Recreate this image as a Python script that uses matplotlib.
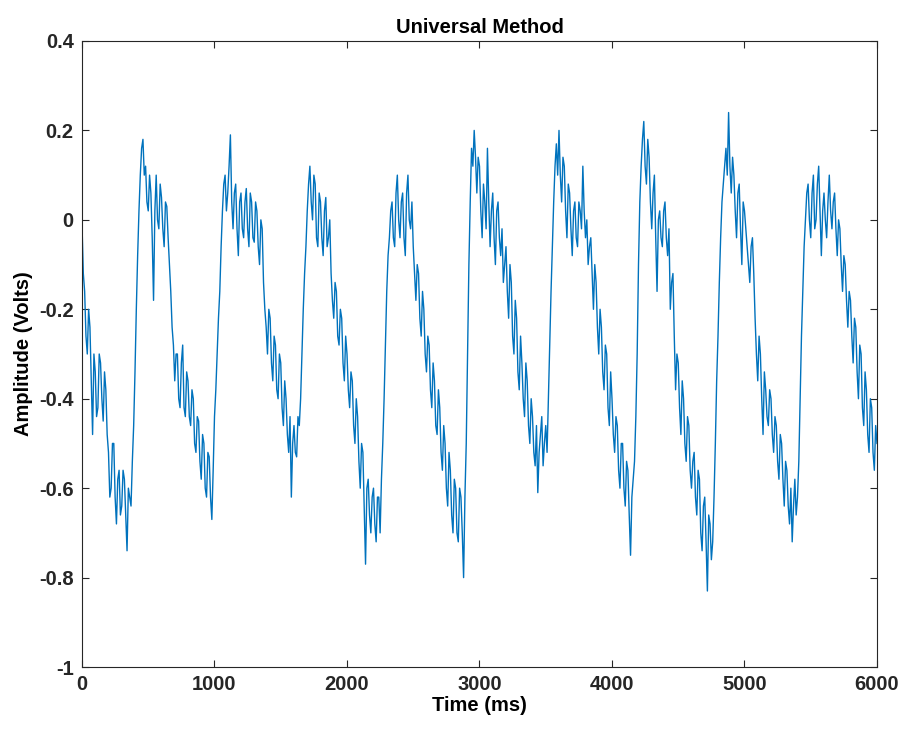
#!/usr/bin/env python3
"""Universal Method trace: amplitude vs time, MATLAB-style axes."""
import matplotlib
matplotlib.use("Agg")
import matplotlib.pyplot as plt
import numpy as np

# sample spacing of the hand-read trace (ms)
SAMPLE_MS = 10

# amplitude (Volts) at t = 0, 20, 40, ... (one row per 200 ms)
AMPLITUDE_EVEN = [
    -0.01, -0.16, -0.30, -0.24, -0.48, -0.34, -0.42, -0.32, -0.45, -0.38,
    -0.52, -0.60, -0.50, -0.68, -0.56, -0.64, -0.58, -0.74, -0.62, -0.54,
    -0.34, -0.08, 0.10, 0.18, 0.12, 0.02, 0.06, -0.18, 0.10, -0.02,
    0.05, -0.06, 0.03, -0.10, -0.24, -0.36, -0.30, -0.42, -0.28, -0.44,
    -0.36, -0.46, -0.40, -0.52, -0.45, -0.58, -0.50, -0.62, -0.53, -0.67,
    -0.44, -0.30, -0.16, 0.02, 0.10, 0.06, 0.19, -0.02, 0.08, -0.08,
    0.06, -0.04, 0.07, -0.06, 0.04, -0.05, 0.02, -0.10, -0.02, -0.20,
    -0.30, -0.22, -0.36, -0.28, -0.40, -0.32, -0.46, -0.40, -0.52, -0.62,
    -0.46, -0.53, -0.46, -0.30, -0.12, 0.02, 0.12, 0.00, 0.08, -0.06,
    0.04, -0.08, 0.05, -0.04, -0.12, -0.22, -0.16, -0.28, -0.22, -0.36,
    -0.30, -0.42, -0.36, -0.50, -0.44, -0.60, -0.52, -0.77, -0.58, -0.70,
    -0.60, -0.72, -0.62, -0.58, -0.40, -0.16, -0.04, 0.04, -0.06, 0.10,
    -0.04, 0.06, -0.08, 0.10, -0.02, -0.06, -0.18, -0.12, -0.26, -0.20,
    -0.34, -0.28, -0.42, -0.36, -0.48, -0.42, -0.56, -0.50, -0.64, -0.56,
    -0.70, -0.60, -0.72, -0.62, -0.80, -0.50, -0.10, 0.16, 0.20, 0.06,
    0.12, -0.04, 0.04, 0.16, -0.06, 0.06, -0.10, 0.04, -0.08, -0.14,
    -0.06, -0.22, -0.14, -0.30, -0.22, -0.38, -0.32, -0.44, -0.36, -0.50,
    -0.44, -0.55, -0.61, -0.48, -0.55, -0.46, -0.40, -0.16, 0.04, 0.17,
    0.20, 0.04, 0.12, -0.04, 0.06, -0.08, 0.04, -0.06, 0.02, 0.12,
    -0.04, -0.10, -0.04, -0.20, -0.14, -0.30, -0.24, -0.38, -0.30, -0.46,
    -0.40, -0.52, -0.46, -0.60, -0.50, -0.64, -0.56, -0.75, -0.58, -0.44,
    -0.10, 0.12, 0.22, 0.08, 0.14, -0.02, 0.10, -0.16, 0.02, -0.06,
    0.04, -0.08, -0.20, -0.12, -0.38, -0.32, -0.48, -0.40, -0.54, -0.46,
    -0.60, -0.52, -0.66, -0.58, -0.74, -0.62, -0.83, -0.68, -0.72, -0.50,
    -0.26, -0.04, 0.08, 0.16, 0.24, 0.06, 0.10, -0.04, 0.08, -0.10,
    0.02, -0.06, -0.14, -0.04, -0.22, -0.36, -0.30, -0.48, -0.38, -0.46,
    -0.40, -0.52, -0.46, -0.58, -0.50, -0.64, -0.56, -0.68, -0.72, -0.58,
    -0.62, -0.40, -0.16, 0.00, 0.08, -0.04, 0.10, 0.00, 0.12, -0.08,
    0.06, -0.04, 0.10, -0.02, 0.06, -0.08, -0.02, -0.16, -0.10, -0.24,
    -0.18, -0.32, -0.24, -0.40, -0.30, -0.46, -0.38, -0.52, -0.42, -0.56,
    -0.50,
]

# amplitude (Volts) at t = 10, 30, 50, ... (one row per 200 ms)
AMPLITUDE_ODD = [
    -0.12, -0.26, -0.20, -0.36, -0.30, -0.44, -0.30, -0.40, -0.34, -0.48,
    -0.62, -0.50, -0.62, -0.58, -0.66, -0.56, -0.66, -0.60, -0.64, -0.46,
    -0.20, 0.02, 0.16, 0.10, 0.04, 0.10, -0.04, 0.02, 0.00, 0.08,
    -0.02, 0.04, -0.04, -0.16, -0.28, -0.30, -0.40, -0.32, -0.42, -0.34,
    -0.44, -0.38, -0.50, -0.44, -0.54, -0.48, -0.60, -0.52, -0.62, -0.56,
    -0.38, -0.22, -0.06, 0.08, 0.02, 0.12, 0.04, 0.06, -0.02, 0.04,
    -0.02, 0.04, -0.02, 0.06, -0.04, 0.04, -0.06, 0.00, -0.14, -0.24,
    -0.20, -0.32, -0.26, -0.38, -0.30, -0.42, -0.36, -0.48, -0.44, -0.50,
    -0.52, -0.44, -0.40, -0.20, -0.06, 0.08, 0.04, 0.10, -0.04, 0.06,
    -0.04, 0.02, -0.06, 0.00, -0.18, -0.14, -0.26, -0.20, -0.32, -0.26,
    -0.38, -0.34, -0.46, -0.40, -0.54, -0.50, -0.64, -0.60, -0.66, -0.62,
    -0.68, -0.62, -0.70, -0.50, -0.28, -0.08, 0.02, -0.04, 0.06, 0.00,
    0.04, -0.04, 0.06, 0.00, 0.04, -0.12, -0.10, -0.22, -0.16, -0.30,
    -0.26, -0.38, -0.32, -0.46, -0.38, -0.52, -0.46, -0.60, -0.52, -0.66,
    -0.58, -0.70, -0.60, -0.70, -0.62, -0.30, 0.04, 0.12, 0.14, 0.14,
    0.02, 0.08, -0.02, 0.04, 0.02, -0.04, 0.02, -0.04, -0.02, -0.10,
    -0.16, -0.10, -0.26, -0.18, -0.34, -0.26, -0.40, -0.32, -0.46, -0.40,
    -0.52, -0.46, -0.52, -0.44, -0.50, -0.52, -0.28, -0.06, 0.12, 0.10,
    0.10, 0.14, 0.02, 0.08, -0.02, 0.02, -0.04, 0.04, -0.02, 0.02,
    0.00, -0.06, -0.12, -0.10, -0.24, -0.20, -0.34, -0.28, -0.42, -0.34,
    -0.48, -0.44, -0.56, -0.50, -0.60, -0.54, -0.66, -0.62, -0.54, -0.30,
    0.04, 0.18, 0.12, 0.18, 0.04, 0.06, -0.04, 0.00, -0.04, 0.02,
    -0.04, -0.02, -0.14, -0.26, -0.30, -0.42, -0.36, -0.50, -0.44, -0.56,
    -0.54, -0.62, -0.56, -0.70, -0.64, -0.72, -0.66, -0.76, -0.62, -0.36,
    -0.14, 0.04, 0.12, 0.10, 0.12, 0.14, 0.02, 0.06, -0.02, 0.04,
    -0.02, -0.10, -0.06, -0.12, -0.30, -0.26, -0.40, -0.34, -0.44, -0.38,
    -0.48, -0.44, -0.54, -0.48, -0.58, -0.54, -0.64, -0.60, -0.64, -0.66,
    -0.54, -0.26, -0.06, 0.06, 0.00, 0.06, -0.02, 0.08, 0.02, 0.02,
    0.00, 0.04, 0.02, 0.04, -0.02, 0.00, -0.10, -0.08, -0.18, -0.16,
    -0.26, -0.22, -0.34, -0.28, -0.42, -0.34, -0.48, -0.40, -0.52, -0.46,
]

X_TICKS = [0, 1000, 2000, 3000, 4000, 5000, 6000]
Y_TICKS = [-1, -0.8, -0.6, -0.4, -0.2, 0, 0.2, 0.4]
Y_TICK_LABELS = ["-1", "-0.8", "-0.6", "-0.4", "-0.2", "0", "0.2", "0.4"]

plt.rcParams["font.family"] = ["Liberation Sans", "DejaVu Sans"]
plt.rcParams["font.weight"] = "bold"

# merge the two read-off sample sets into one trace on a 10 ms grid
amplitude = np.empty(len(AMPLITUDE_EVEN) + len(AMPLITUDE_ODD))
amplitude[0::2] = AMPLITUDE_EVEN
amplitude[1::2] = AMPLITUDE_ODD
time_ms = np.arange(len(amplitude)) * SAMPLE_MS

fig = plt.figure(figsize=(9.03, 7.29), dpi=100)
ax = fig.add_axes([0.0908, 0.085, 0.8804, 0.8588])

ax.plot(time_ms, amplitude, color="#0072BD", linewidth=1.0)

ax.set_xlim(0, 6000)
ax.set_ylim(-1, 0.4)
ax.set_xticks(X_TICKS)
ax.set_yticks(Y_TICKS)
ax.set_yticklabels(Y_TICK_LABELS)

ax.tick_params(direction="in", length=5, width=0.8, top=True, right=True,
               labelsize=14.5, colors="#262626", pad=6)
for spine in ax.spines.values():
    spine.set_color("#262626")
    spine.set_linewidth(0.8)

ax.set_title("Universal Method", fontsize=14.5, fontweight="bold", pad=6)
ax.set_xlabel("Time (ms)", fontsize=14.5, fontweight="bold", labelpad=1)
ax.set_ylabel("Amplitude (Volts)", fontsize=14.5, fontweight="bold", labelpad=4)

fig.savefig("out.png", dpi=100, facecolor="white")
plt.close(fig)
